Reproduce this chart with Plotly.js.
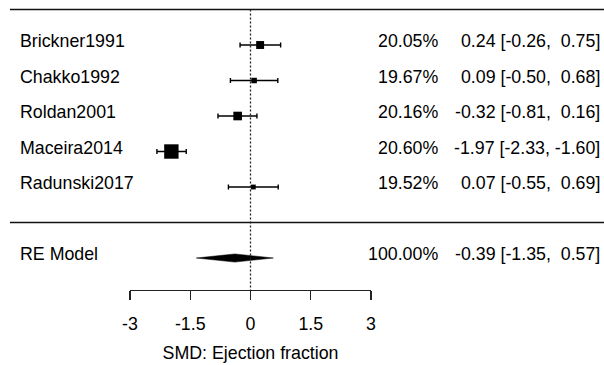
<!DOCTYPE html>
<html>
<head>
<meta charset="utf-8">
<script src="https://cdn.plot.ly/plotly-3.0.1.min.js"></script>
<style>html,body{margin:0;padding:0;background:#fff;}#chart{width:604px;height:365px;}</style>
</head>
<body>
<div id="chart"></div>
<script>
// ---- data ----
const studies  = ['Brickner1991', 'Chakko1992', 'Roldan2001', 'Maceira2014', 'Radunski2017'];
const estimate = [0.24, 0.09, -0.32, -1.97, 0.07];
const ciLow    = [-0.26, -0.50, -0.81, -2.33, -0.55];
const ciHigh   = [0.75, 0.68, 0.16, -1.60, 0.69];
const weights  = [20.05, 19.67, 20.16, 20.60, 19.52];
const reLabel  = 'RE Model';
const reEst    = [-0.39];
const reLow    = [-1.35];
const reHigh   = [0.57];
const reWeight = [100.00];
const tickVals = [-3, -1.5, 0, 1.5, 3];
const tickText = ['-3', '-1.5', '0', '1.5', '3'];
const xTitle   = 'SMD: Ejection fraction';

// ---- layout helpers ----
const W = 604, H = 365;
const L = 130, R = 233, T = 0, B = 75;
const plotW = W - L - R;
const yTop = 6.268, yBot = -1.901;  // y-axis range
const FONT = 'Arial, "Liberation Sans", sans-serif';
const FS = 17.8;
const px2paper = p => (p - L) / plotW;

const k = studies.length;
const rows = studies.map((_, i) => k - i);
const reRow = -1;

// square size like metafor's psize (from precision)
const prec = ciLow.map((lo, i) => 1 / ((ciHigh[i] - lo) / 3.92));
const pMin = Math.min(...prec), pMax = Math.max(...prec);
const psize = prec.map(p => 0.5 + (p - pMin) / (pMax - pMin));
const baseSq = 9.6;

const nb = '\u00A0';
function fmt(v) { let s = v.toFixed(2); while (s.length < 5) s = nb + s; return s; }
function ciText(e, lo, hi) { return fmt(e) + nb + '[' + fmt(lo) + ',' + nb + fmt(hi) + ']'; }

const studyTrace = {
  type: 'scatter', mode: 'markers',
  x: estimate, y: rows,
  marker: { symbol: 'square', color: '#000', opacity: 1, size: psize.map(p => p * baseSq), line: { width: 0 } },
  error_x: {
    type: 'data', symmetric: false,
    array: ciHigh.map((h, i) => h - estimate[i]),
    arrayminus: estimate.map((e, i) => e - ciLow[i]),
    color: '#000', thickness: 1.4, width: 2.6
  },
  hoverinfo: 'skip', showlegend: false, cliponaxis: false
};

const dh = 0.115;
const diamond = {
  type: 'scatter', mode: 'lines',
  x: [reLow[0], reEst[0], reHigh[0], reEst[0], reLow[0]],
  y: [reRow, reRow + dh, reRow, reRow - dh, reRow],
  fill: 'toself', fillcolor: '#000',
  line: { color: '#000', width: 0.5 },
  hoverinfo: 'skip', showlegend: false, cliponaxis: false
};

const annotations = [];
const txt = (x, y, text, anchor) => annotations.push({
  xref: 'paper', yref: 'y', x: px2paper(x), y: y, text: text,
  xanchor: anchor, yanchor: 'middle', yshift: 4, showarrow: false,
  borderpad: 0, borderwidth: 0,
  font: { family: FONT, size: FS, color: '#000' }
});
studies.forEach((s, i) => {
  txt(20, rows[i], s, 'left');
  txt(438, rows[i], weights[i].toFixed(2) + '%', 'right');
  txt(600, rows[i], ciText(estimate[i], ciLow[i], ciHigh[i]), 'right');
});
txt(20, reRow, reLabel, 'left');
txt(438, reRow, reWeight[0].toFixed(2) + '%', 'right');
txt(600, reRow, ciText(reEst[0], reLow[0], reHigh[0]), 'right');

const shapes = [
  { type: 'line', xref: 'paper', yref: 'y', x0: px2paper(10), x1: px2paper(604), y0: k + 1, y1: k + 1,
    line: { color: '#111', width: 1.5 } },
  { type: 'line', xref: 'paper', yref: 'y', x0: px2paper(10), x1: px2paper(604), y0: 0, y1: 0,
    line: { color: '#111', width: 1.5 } },
  { type: 'line', xref: 'x', yref: 'y', x0: 0, x1: 0, y0: k + 1, y1: yBot,
    line: { color: '#222', width: 1.3, dash: '2px,2px' } }
];

const layout = {
  width: W, height: H,
  margin: { l: L, r: R, t: T, b: B, pad: 0 },
  paper_bgcolor: '#fff', plot_bgcolor: '#fff',
  font: { family: FONT, size: FS, color: '#000' },
  showlegend: false,
  xaxis: {
    range: [-3, 3], showgrid: false, zeroline: false,
    showline: true, linecolor: '#222', linewidth: 1.3,
    ticks: 'outside', ticklen: 9, tickwidth: 1.3, tickcolor: '#222',
    tickvals: tickVals, ticktext: tickText,
    ticklabelstandoff: 8,
    tickfont: { family: FONT, size: FS, color: '#000' },
    title: { text: xTitle, font: { family: FONT, size: FS, color: '#000' }, standoff: 14 },
    fixedrange: true
  },
  yaxis: { range: [yBot, yTop], visible: false, fixedrange: true },
  shapes: shapes,
  annotations: annotations
};

Plotly.newPlot('chart', [studyTrace, diamond], layout, { staticPlot: true, displayModeBar: false });
</script>
</body>
</html>
